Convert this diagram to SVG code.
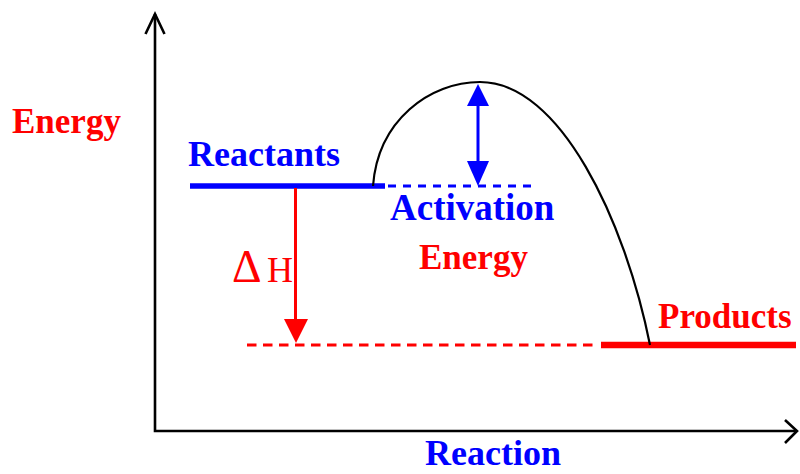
<svg xmlns="http://www.w3.org/2000/svg" width="800" height="474" viewBox="0 0 800 474">
<style>
.lbl{font-family:"Liberation Serif","Times New Roman",serif;font-weight:bold;font-size:36px}
.red{fill:#ff0000}
.blue{fill:#0000ff}
.ax{stroke:#000;stroke-width:2.6;fill:none}
</style>
<rect width="800" height="474" fill="#fff"/>
<g id="axes">
  <path class="ax" d="M155,14 V431 H797"/>
  <path class="ax" d="M145.5,34 L155,14 L164.5,34" stroke-width="3"/>
  <path class="ax" d="M785,420 L797,431 L785,443" stroke-width="3"/>
  <text class="lbl red" x="12" y="133" style="font-size:35px">Energy</text>
  <text class="lbl blue" x="425" y="465" style="font-size:36px">Reaction</text>
</g>
<g id="reactants">
  <line x1="190" y1="186" x2="385" y2="186" stroke="#0000ff" stroke-width="5.5"/>
  <text class="lbl blue" x="188" y="166">Reactants</text>
</g>
<g id="products">
  <line x1="601" y1="345" x2="796" y2="345" stroke="#ff0000" stroke-width="6.5"/>
  <text class="lbl red" x="658" y="328" style="font-size:35px">Products</text>
</g>
<g id="activation-energy">
  <text class="lbl blue" x="390" y="220" style="font-size:37px">Activation</text>
  <text class="lbl red" x="419" y="269" style="font-size:35px">Energy</text>
</g>
<g id="delta-h">
  <text x="232" y="282" fill="#ff0000" font-family="Liberation Serif, serif" font-size="36"><tspan font-size="46">Δ</tspan><tspan x="267">H</tspan></text>
</g>
<g id="connectors">
  <path d="M373,186 C378,120 430,82 480,82 C560,82 625,220 650,345" fill="none" stroke="#000" stroke-width="2.2"/>
  <line x1="385" y1="186" x2="531" y2="186" stroke="#0000ff" stroke-width="3" stroke-dasharray="8,7" stroke-dashoffset="-3"/>
  <line x1="247" y1="345" x2="598" y2="345" stroke="#ff0000" stroke-width="3" stroke-dasharray="9.5,6.5"/>
  <line x1="478" y1="104" x2="478" y2="163" stroke="#0000ff" stroke-width="3"/>
  <polygon points="478,84 467,106 489,106" fill="#0000ff"/>
  <polygon points="478,186 467,161 489,161" fill="#0000ff"/>
  <line x1="295.5" y1="188" x2="295.5" y2="322" stroke="#ff0000" stroke-width="3"/>
  <polygon points="284,319 308,319 296,343" fill="#ff0000"/>
</g>
</svg>
